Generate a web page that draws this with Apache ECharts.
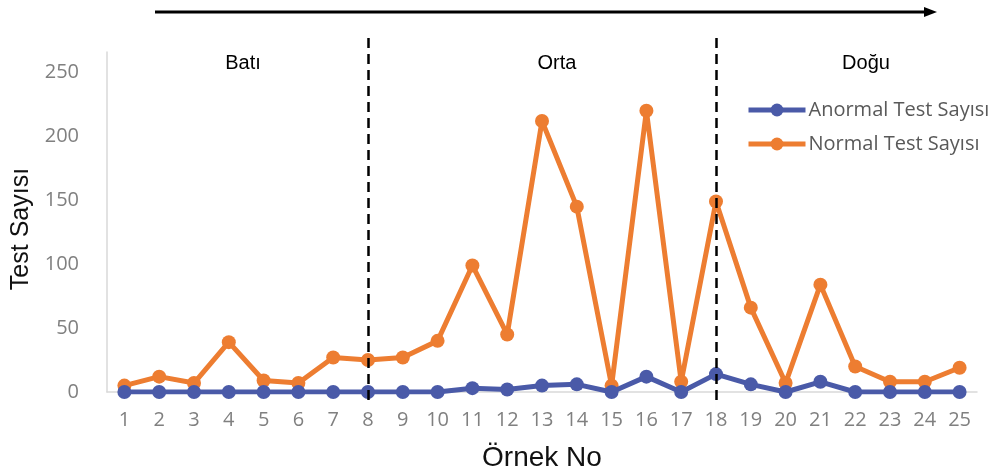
<!DOCTYPE html>
<html>
<head>
<meta charset="utf-8">
<script src="https://cdn.jsdelivr.net/npm/echarts@6/dist/echarts.min.js"></script>
<style>html,body{margin:0;padding:0;background:#fff}#c{width:1000px;height:473px}</style>
</head>
<body>
<div id="c"></div>
<script>
const categories = ['1','2','3','4','5','6','7','8','9','10','11','12','13','14','15','16','17','18','19','20','21','22','23','24','25'];
const anormal = [0,0,0,0,0,0,0,0,0,0,3,2,5,6,0,12,0,14,6,0,8,0,0,0,0];
const normal = [5,12,7,39,9,7,27,25,27,40,99,45,212,145,5,220,8,149,66,7,84,20,8,8,19];
const dividers = ['8','18'];
const regions = ['Batı','Orta','Doğu'];
const yTicks = [0,50,100,150,200,250];

const chart = echarts.init(document.getElementById('c'));
const tickFont = '"Open Sans", "Noto Sans", sans-serif';
const sansFont = '"Liberation Sans", Arial, sans-serif';
chart.setOption({
  animation: false,
  backgroundColor: '#fff',
  grid: [
    {left: 107, right: 23, top: 52, bottom: 81, outerBoundsMode: 'none', containLabel: false},
    {left: 107, right: 23, top: 33, bottom: 73, outerBoundsMode: 'none', containLabel: false}
  ],
  legend: {
    orient: 'vertical', left: 741, top: 95,
    itemWidth: 57, itemHeight: 16, itemGap: 14,
    lineStyle: {width: 5},
    data: ['Anormal Test Sayısı','Normal Test Sayısı'],
    textStyle: {fontSize: 20, color: '#595959', fontFamily: tickFont, padding: [0, 0, 0, -2]}
  },
  xAxis: [
    {
      type: 'category', data: categories, gridIndex: 0, boundaryGap: true,
      axisLine: {lineStyle: {color: '#d9d9d9', width: 1.5}},
      axisTick: {show: false},
      axisLabel: {color: '#808080', fontSize: 20, fontFamily: tickFont, margin: 18},
      name: 'Örnek No', nameLocation: 'middle', nameGap: 52,
      nameTextStyle: {fontSize: 28, color: '#111', fontFamily: sansFont}
    },
    {type: 'category', data: categories, gridIndex: 1, boundaryGap: true, show: false}
  ],
  yAxis: [
    {
      type: 'value', gridIndex: 0, min: yTicks[0], max: 266, interval: 50,
      axisLine: {show: true, lineStyle: {color: '#d9d9d9', width: 1.5}},
      axisTick: {show: false}, splitLine: {show: false},
      axisLabel: {color: '#808080', fontSize: 20, fontFamily: tickFont, margin: 28, showMaxLabel: false},
      name: 'Test Sayısı', nameLocation: 'middle', nameGap: 67,
      nameTextStyle: {fontSize: 25, color: '#111', fontFamily: sansFont, padding: [0, 14, 0, 0]}
    },
    {type: 'value', gridIndex: 1, min: 0, max: 1, show: false}
  ],
  series: [
    {
      name: 'Anormal Test Sayısı', type: 'line', data: anormal,
      xAxisIndex: 0, yAxisIndex: 0,
      color: '#4a5aa8', symbol: 'circle', symbolSize: 14,
      lineStyle: {width: 5, color: '#4a5aa8'}, itemStyle: {color: '#4a5aa8'}, z: 3
    },
    {
      name: 'Normal Test Sayısı', type: 'line', data: normal,
      xAxisIndex: 0, yAxisIndex: 0,
      color: '#ed7d31', symbol: 'circle', symbolSize: 14,
      lineStyle: {width: 5, color: '#ed7d31'}, itemStyle: {color: '#ed7d31'}, z: 2
    },
    {
      name: 'dividers', type: 'line', data: [], xAxisIndex: 1, yAxisIndex: 1,
      markLine: {
        silent: true, symbol: 'none', label: {show: false},
        lineStyle: {color: '#000', width: 2.5, type: [10, 6]},
        data: dividers.map(d => ({xAxis: d}))
      },
      z: 10
    }
  ],
  graphic: [
    {type: 'line', shape: {x1: 155, y1: 12, x2: 928, y2: 12}, style: {stroke: '#000', lineWidth: 3}},
    {type: 'polygon', shape: {points: [[924, 7], [937, 12], [924, 17]]}, style: {fill: '#000'}},
    {type: 'text', x: 243, y: 63, style: {text: regions[0], font: '20px ' + sansFont, fill: '#000', align: 'center', verticalAlign: 'middle'}},
    {type: 'text', x: 557, y: 63, style: {text: regions[1], font: '20px ' + sansFont, fill: '#000', align: 'center', verticalAlign: 'middle'}},
    {type: 'text', x: 866, y: 63, style: {text: regions[2], font: '20px ' + sansFont, fill: '#000', align: 'center', verticalAlign: 'middle'}}
  ]
});
</script>
</body>
</html>
